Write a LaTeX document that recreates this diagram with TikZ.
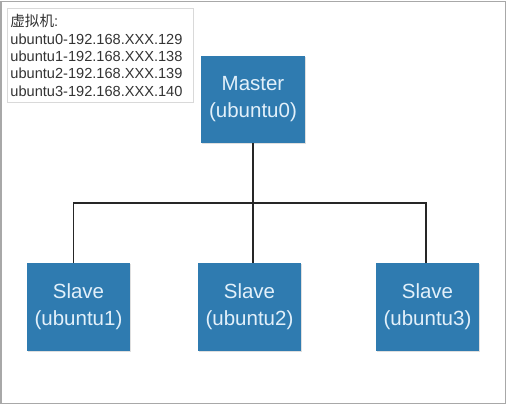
\documentclass[tikz,border=0pt]{standalone}
\usepackage{fontspec}
\setmainfont{Liberation Sans}
\newfontfamily\cjk{Noto Sans CJK SC}
\usepackage{xcolor}
\usetikzlibrary{positioning,calc,shadows}
\definecolor{boxblue}{HTML}{2F7BB0}
\definecolor{boxtext}{HTML}{E2F0FA}
\definecolor{framegray}{HTML}{A8A8A8}
\definecolor{infotext}{HTML}{333333}

\begin{document}
\begin{tikzpicture}[x=1pt, y=1pt,
  hostbox/.style={fill=boxblue, text=boxtext, inner sep=0pt,
                  minimum width=103pt, minimum height=88pt,
                  font=\fontsize{20.5}{27}\selectfont, align=center,
                  drop shadow={shadow xshift=0.6pt, shadow yshift=-0.8pt,
                               opacity=0.25}},
  link/.style={line width=1.8pt, black!85},
]
  % page and frame
  \useasboundingbox (0,0) rectangle (507,405);
  \draw[framegray, line width=1.5pt] (1,1.5) rectangle (505.5,403.5);

  % address list
  \node[draw=black!15, line width=0.8pt, anchor=north west,
        minimum width=186pt, minimum height=94pt, inner sep=3pt,
        text width=180pt, align=left, text=infotext,
        font=\fontsize{14.6}{17.4}\selectfont] (vm) at (7,397)
    {{\cjk 虚拟机}:\\
     ubuntu0-192.168.XXX.129\\
     ubuntu1-192.168.XXX.138\\
     ubuntu2-192.168.XXX.139\\
     ubuntu3-192.168.XXX.140};

  % master
  \node[hostbox, minimum width=104pt, minimum height=87pt] (m) at (253,305.5)
    {Master\\(ubuntu0)};

  % slaves
  \node[hostbox] (s1) at (78.5,98) {Slave\\(ubuntu1)};
  \node[hostbox] (s2) at (249.5,98) {Slave\\(ubuntu2)};
  \node[hostbox] (s3) at (427.5,98) {Slave\\(ubuntu3)};

  % links
  \coordinate (bus) at (0,202);
  \draw[link] (m.south) -- (m.south |- s2.north);
  \draw[link] ([xshift=-5pt]s1.north) -- ([xshift=-5pt]s1.north |- bus)
    -| ([xshift=-1.5pt]s3.north);
\end{tikzpicture}
\end{document}
